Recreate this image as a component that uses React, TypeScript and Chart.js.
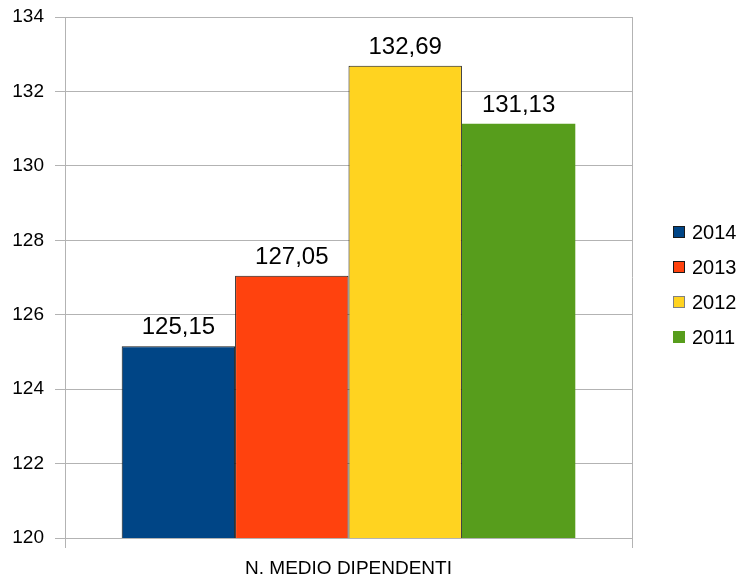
import React, { useEffect, useRef } from "react";
import { Chart, registerables } from "chart.js";

Chart.register(...registerables);

// Average number of employees per year
const categories = ["N. MEDIO DIPENDENTI"];
const years = ["2014", "2013", "2012", "2011"];
const values2014 = [125.15];
const values2013 = [127.05];
const values2012 = [132.69];
const values2011 = [131.13];
const seriesValues = [values2014, values2013, values2012, values2011];
const seriesColors = ["#004586", "#ff420e", "#ffd320", "#579d1c"];
const seriesBorders = ["#1a1a1a", "#1a1a1a", "#1a1a1a", "#579d1c"];
const yMin = 120;
const yMax = 134;
const yStep = 2;

const FONT = "'Liberation Sans', Arial, sans-serif";
const GRID = "#b3b3b3";

const formatValue = (v: number) => v.toFixed(2).replace(".", ",");

// Value labels above each bar
const valueLabels = {
  id: "valueLabels",
  afterDatasetsDraw(chart: any) {
    const ctx = chart.ctx;
    ctx.save();
    ctx.font = `24px ${FONT}`;
    ctx.fillStyle = "#000";
    ctx.textAlign = "center";
    ctx.textBaseline = "alphabetic";
    chart.data.datasets.forEach((ds: any, i: number) => {
      const meta = chart.getDatasetMeta(i);
      meta.data.forEach((el: any, j: number) => {
        ctx.fillText(formatValue(ds.data[j]), el.x, el.y - 12);
      });
    });
    ctx.restore();
  },
};

// Legend column on the right side
const sideLegend = {
  id: "sideLegend",
  afterDraw(chart: any) {
    const ctx = chart.ctx;
    const n = chart.data.datasets.length;
    const spacing = 35;
    const boxSize = 12;
    const boxX = chart.chartArea.right + 41;
    const firstY = chart.height / 2 - 6.5 - ((n - 1) * spacing) / 2;
    ctx.save();
    ctx.font = `20px ${FONT}`;
    ctx.textAlign = "left";
    ctx.textBaseline = "middle";
    chart.data.datasets.forEach((ds: any, i: number) => {
      const cy = firstY + i * spacing;
      ctx.fillStyle = ds.backgroundColor;
      ctx.fillRect(boxX, cy - boxSize / 2, boxSize, boxSize);
      ctx.strokeStyle = i === 2 ? "#808080" : ds.borderColor;
      ctx.lineWidth = 1;
      ctx.strokeRect(boxX + 0.5, cy - boxSize / 2 + 0.5, boxSize - 1, boxSize - 1);
      ctx.fillStyle = "#000";
      ctx.fillText(ds.label, boxX + 19, cy + 1);
    });
    ctx.restore();
  },
};

export default function App() {
  const canvasRef = useRef<HTMLCanvasElement | null>(null);

  useEffect(() => {
    const canvas = canvasRef.current;
    if (!canvas) return;
    const chart = new Chart(canvas, {
      type: "bar",
      data: {
        labels: categories,
        datasets: years.map((year, i) => ({
          label: year,
          data: seriesValues[i],
          backgroundColor: seriesColors[i],
          borderColor: seriesBorders[i],
          borderWidth: i === 3 ? 0 : 1,
          borderSkipped: false,
          categoryPercentage: 0.8,
          barPercentage: 1.0,
        })),
      },
      options: {
        responsive: false,
        animation: false,
        devicePixelRatio: 1,
        layout: { padding: { top: 17, right: 113, left: 0, bottom: 0 } },
        plugins: {
          legend: { display: false },
          tooltip: { enabled: false },
        },
        scales: {
          x: {
            offset: true,
            grid: {
              offset: true,
              color: GRID,
              lineWidth: 1,
              tickLength: 10,
              drawOnChartArea: true,
            },
            border: { color: GRID, width: 1 },
            ticks: {
              color: "#000",
              font: { family: FONT, size: 19 },
              padding: 9,
            },
            afterFit(scale: any) {
              scale.height = 44;
            },
          },
          y: {
            min: yMin,
            max: yMax,
            grid: { color: GRID, lineWidth: 1, tickLength: 10 },
            border: { color: GRID, width: 1 },
            ticks: {
              stepSize: yStep,
              color: "#000",
              font: { family: FONT, size: 19 },
              padding: 11,
            },
            afterFit(scale: any) {
              scale.width = 65;
              scale.paddingTop = 0;
              scale.paddingBottom = 0;
            },
          },
        },
      },
      plugins: [valueLabels, sideLegend],
    });
    return () => chart.destroy();
  }, []);

  return (
    <div
      style={{
        position: "fixed",
        left: 0,
        top: 0,
        width: 745,
        height: 582,
        background: "#fff",
      }}
    >
      <canvas ref={canvasRef} width={745} height={582} style={{ display: "block" }} />
    </div>
  );
}
